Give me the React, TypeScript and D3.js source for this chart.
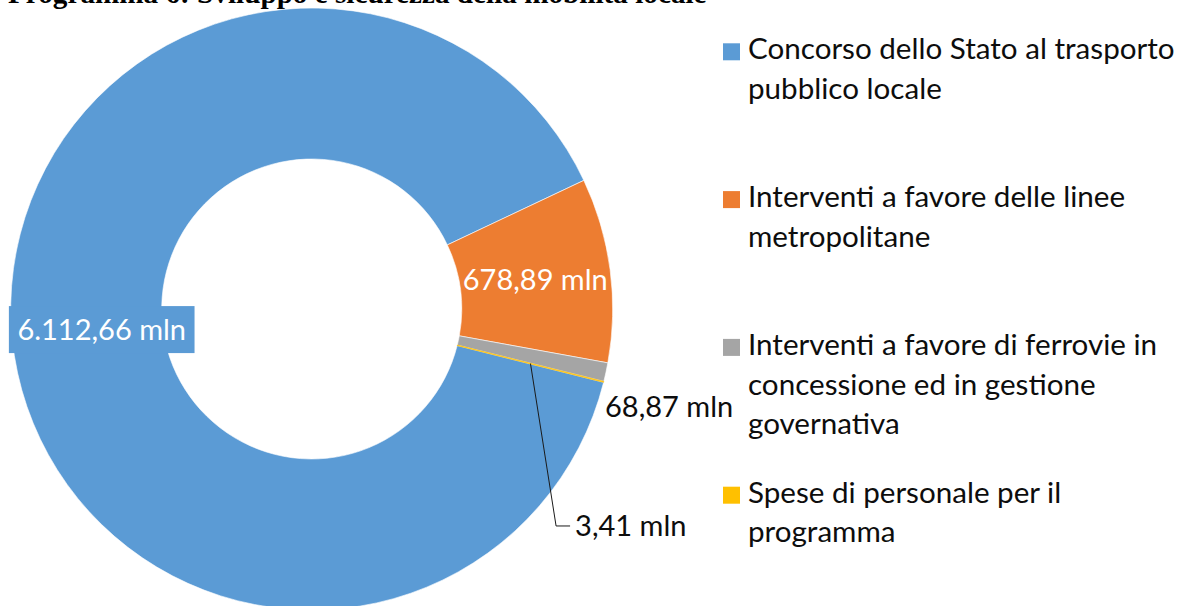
import React, { useLayoutEffect, useRef, useState } from "react";
import * as d3 from "d3";

const title = "Programma 6: Sviluppo e sicurezza della mobilità locale";
const categories = [
  "Concorso dello Stato al trasporto pubblico locale",
  "Interventi a favore delle linee metropolitane",
  "Interventi a favore di ferrovie in concessione ed in gestione governativa",
  "Spese di personale per il programma",
];
const legendLines = [
  ["Concorso dello Stato al trasporto", "pubblico locale"],
  ["Interventi a favore delle linee", "metropolitane"],
  ["Interventi a favore di ferrovie in", "concessione ed in gestione", "governativa"],
  ["Spese di personale per il", "programma"],
];
const values = [6112.66, 678.89, 68.87, 3.41];
const colors = ["#5B9BD5", "#ED7D31", "#A5A5A5", "#FFC000"];

const itLocale = d3.formatLocale({ decimal: ",", thousands: ".", grouping: [3], currency: ["€", ""] });
const fmt = itLocale.format(",.2f");
const labelOf = (v: number) => `${fmt(v)} mln`;

const FONT = "Lato, 'Open Sans', sans-serif";
const rad = (d: number) => (d * Math.PI) / 180;

export default function App() {
  const W = 1179, H = 606;
  const cx = 311.7, cy = 309, rOuter = 301, rInner = 150;
  const startDeg = 104.1;

  const [legendSize, setLegendSize] = useState(29);
  const [labelSize, setLabelSize] = useState(29);
  const [boxW, setBoxW] = useState(186);
  const mLegend = useRef<SVGTextElement>(null);
  const mLabel = useRef<SVGTextElement>(null);
  const blueLabel = useRef<SVGTextElement>(null);

  useLayoutEffect(() => {
    if (mLegend.current) {
      const w = mLegend.current.getComputedTextLength();
      if (w > 0) setLegendSize((32 * 426.7) / w);
    }
    if (mLabel.current) {
      const w = mLabel.current.getComputedTextLength();
      if (w > 0) setLabelSize((32 * 145) / w);
    }
  }, []);
  useLayoutEffect(() => {
    if (blueLabel.current) {
      const w = blueLabel.current.getComputedTextLength();
      if (w > 0) setBoxW(w + 17);
    }
  }, [labelSize]);

  const pie = d3
    .pie<number>()
    .sort(null)
    .value((d) => d)
    .startAngle(rad(startDeg))
    .endAngle(rad(startDeg) + 2 * Math.PI);
  const arcs = pie(values);
  const arc = d3.arc<d3.PieArcDatum<number>>().innerRadius(rInner).outerRadius(rOuter);
  const polar = (a: number, r: number): [number, number] => [cx + r * Math.sin(a), cy - r * Math.cos(a)];
  const mid = (a: d3.PieArcDatum<number>) => (a.startAngle + a.endAngle) / 2;
  const centroid = (a: d3.PieArcDatum<number>): [number, number] => {
    const c = arc.centroid(a);
    return [c[0] + cx, c[1] + cy];
  };
  const base = labelSize * 0.36;

  // label anchors
  const blueC = polar(mid(arcs[0]), 211);
  const orangeC = centroid(arcs[1]);
  const grayC = polar(mid(arcs[2]) + rad(6.2), rOuter + 8);
  const yellowStart = centroid(arcs[3]);
  const yellowElbow = polar(rad(131.6), 326.8);
  const yellowEnd: [number, number] = [yellowElbow[0] + 14, yellowElbow[1]];

  const legendX = 723, legendTextX = 748, legendTop = 59.3, itemStep = 147.8, lineStep = 39.6;

  return (
    <svg width={W} height={H} style={{ position: "absolute", left: 0, top: 0, background: "#fff" }}>
      <text x={8} y={3} fontFamily="'Liberation Serif', 'Times New Roman', serif" fontWeight="bold" fontSize={29.2} fill="#000">
        {title}
      </text>

      <g transform={`translate(${cx},${cy})`}>
        {arcs.map((a, i) => (
          <path key={categories[i]} d={arc(a) || ""} fill={colors[i]} stroke={i === 3 ? colors[3] : "#fff"} strokeWidth={0.6} />
        ))}
      </g>

      {/* blue label with box */}
      <rect x={blueC[0] - boxW / 2} y={blueC[1] - 23.5} width={boxW} height={47} fill={colors[0]} />
      <text ref={blueLabel} x={blueC[0]} y={blueC[1] + base} textAnchor="middle" fontFamily={FONT} fontSize={labelSize} fill="#fff">
        {labelOf(values[0])}
      </text>
      <text x={orangeC[0]} y={orangeC[1] + base} textAnchor="middle" fontFamily={FONT} fontSize={labelSize} fill="#fff">
        {labelOf(values[1])}
      </text>
      <text x={grayC[0]} y={grayC[1] + base} textAnchor="start" fontFamily={FONT} fontSize={labelSize} fill="#0d0d0d">
        {labelOf(values[2])}
      </text>
      <polyline
        points={[yellowStart, yellowElbow, yellowEnd].map((p) => p.join(",")).join(" ")}
        fill="none"
        stroke="#1a1a1a"
        strokeWidth={1}
      />
      <text x={yellowEnd[0] + 5} y={yellowEnd[1] + base} textAnchor="start" fontFamily={FONT} fontSize={labelSize} fill="#0d0d0d">
        {labelOf(values[3])}
      </text>

      {/* legend */}
      {legendLines.map((lines, i) => {
        const y0 = legendTop + i * itemStep;
        return (
          <g key={categories[i]}>
            <rect x={legendX} y={y0 - 16} width={17} height={17} fill={colors[i]} />
            {lines.map((ln, j) => (
              <text key={j} x={legendTextX} y={y0 + j * lineStep} fontFamily={FONT} fontSize={legendSize} fill="#0d0d0d">
                {ln}
              </text>
            ))}
          </g>
        );
      })}

      {/* hidden measuring texts */}
      <g visibility="hidden">
        <text ref={mLegend} fontFamily={FONT} fontSize={32}>{legendLines[0][0]}</text>
        <text ref={mLabel} fontFamily={FONT} fontSize={32}>{labelOf(values[1])}</text>
      </g>
    </svg>
  );
}
